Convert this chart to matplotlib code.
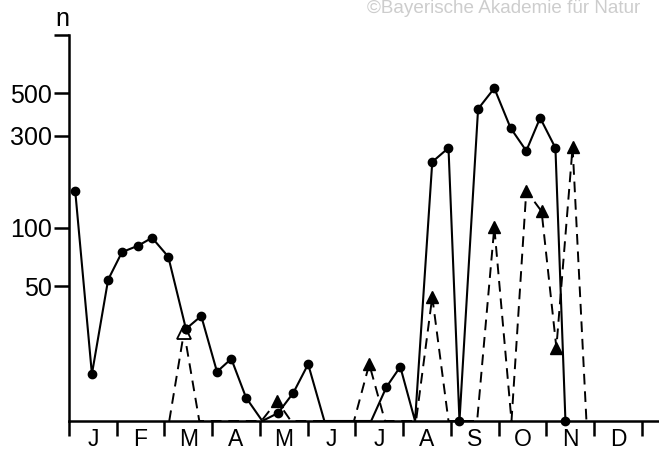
import numpy as np
import matplotlib
matplotlib.use("Agg")
import matplotlib.pyplot as plt

plt.rcParams['font.family'] = ['Liberation Sans', 'DejaVu Sans']

# x in months (0 = start of January), n on a log scale; 0 = no catch (drawn on the baseline)
months = ['J', 'F', 'M', 'A', 'M', 'J', 'J', 'A', 'S', 'O', 'N', 'D']

solid_x = [0.13, 0.48, 0.82, 1.11, 1.45, 1.74, 2.08, 2.45, 2.77, 3.10, 3.40, 3.71,
           4.05, 4.38, 4.70, 5.01, 5.35, 6.33, 6.65, 6.94, 7.25, 7.61, 7.95, 8.18,
           8.57, 8.91, 9.25, 9.58, 9.87, 10.19, 10.40]
solid_n = [156, 17.5, 54, 75, 81, 89, 71, 30, 35, 18, 21, 13.2,
           0, 11, 14, 19.7, 0, 0, 15, 19.1, 0, 220, 260, 0,
           414, 530, 330, 251, 372, 260, 0]
solid_zero_dots = [23, 30]   # baseline points that carry a dot

dash_x = [2.10, 2.41, 2.73, 4.03, 4.36, 4.65, 5.97, 6.29, 6.62, 7.27, 7.61, 7.95,
          8.55, 8.91, 9.27, 9.58, 9.90, 10.21, 10.55, 10.84]
dash_n = [0, 29, 0, 0, 12.7, 0, 0, 19.7, 0, 0, 44, 0,
          0, 101, 0, 156, 122, 24, 263, 0]

y_ticks = [50, 100, 300, 500]
y_floor, y_top = 10, 1000

solid_y = np.where(np.array(solid_n) > 0, solid_n, y_floor)
dash_y = np.where(np.array(dash_n) > 0, dash_n, y_floor)

fig = plt.figure(figsize=(6.59, 4.54), dpi=100)
ax = fig.add_axes([0.1047, 0.0727, 0.8953, 0.8502])

ax.plot(solid_x, solid_y, color='black', lw=1.5, clip_on=False, zorder=3)
mark = np.array(solid_n) > 0
mark[solid_zero_dots] = True
ax.plot(np.array(solid_x)[mark], solid_y[mark], 'o', color='black', ms=6,
        clip_on=False, zorder=4)

ax.plot(dash_x, dash_y, color='black', lw=1.4, dashes=(5.5, 3.5), clip_on=False, zorder=2)
tri = np.array(dash_n) > 0
ax.plot(np.array(dash_x)[tri], dash_y[tri], '^', color='black', ms=8.5,
        clip_on=False, zorder=3)
# the March triangle is drawn open
ax.plot(dash_x[1], dash_y[1], '^', mfc='white', mec='black', mew=1.3, ms=10, zorder=3.5)
ax.plot(solid_x[7], solid_y[7], 'o', color='black', ms=6, zorder=4)

ax.set_yscale('log')
ax.set_ylim(y_floor, y_top)
ax.set_xlim(0, 12.36)

for s in ['top', 'right']:
    ax.spines[s].set_visible(False)
ax.spines['left'].set_linewidth(1.8)
ax.spines['bottom'].set_linewidth(1.8)

ax.yaxis.set_minor_locator(matplotlib.ticker.NullLocator())
ax.set_yticks(y_ticks + [y_top])
ax.set_yticklabels([str(v) for v in y_ticks] + [''])
ax.tick_params(axis='y', which='major', direction='out', length=11, width=1.8,
               pad=1.5, labelsize=18)

ax.set_xticks(np.arange(12) + 0.5)
ax.set_xticklabels(months)
ax.set_xticks(np.arange(13), minor=True)
ax.tick_params(axis='x', which='major', length=0, pad=5, labelsize=16.5)
ax.tick_params(axis='x', which='minor', direction='out', length=10.5, width=1.8)

fig.text(0.094, 0.958, 'n', fontsize=18, ha='center', va='center')
fig.text(0.557, 0.999, '©Bayerische Akademie für Natur', fontsize=13.6,
         color='#cdcdcd', ha='left', va='top')

fig.savefig('out.png', dpi=100)
